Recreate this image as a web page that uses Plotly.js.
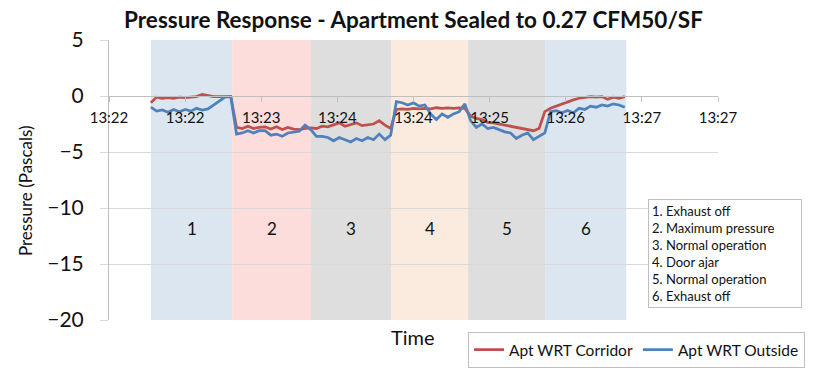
<!DOCTYPE html>
<html>
<head>
<meta charset="utf-8">
<script src="https://cdn.plot.ly/plotly-3.0.1.min.js"></script>
<style>html,body{margin:0;padding:0;background:#fff;}#chart{width:814px;height:381px;}</style>
</head>
<body>
<div id="chart"></div>
<script>
// time in seconds from the left end of the axis
const times = [22,25,28,31,34,37,40,43,46,49,52,55,58,61,64,67,70,73,76,79,82,85,88,91,94,97,100,103,106,109,112,115,118,121,124,127,130,133,136,139,142,145,148,151,154,157,160,163,166,169,172,175,178,181,184,187,190,193,196,199,202,205,208,211,214,217,220,223,226,229,232,235,238,241,244,247,250,253,256,259,262,265,268,271];
const aptCorridor = [-0.6,-0.1,-0.2,-0.15,-0.2,-0.1,-0.15,-0.1,-0.05,0.15,0.05,-0.05,-0.05,-0.05,-0.05,-2.8,-2.9,-2.7,-2.9,-2.8,-2.75,-2.95,-2.75,-3.0,-2.8,-2.95,-3.0,-2.9,-2.85,-2.9,-2.7,-2.75,-2.55,-2.4,-2.7,-2.55,-2.4,-2.65,-2.55,-2.5,-2.2,-2.6,-2.9,-1.2,-1.15,-1.2,-1.1,-1.15,-1.1,-1.15,-1.05,-1.1,-1.05,-1.1,-1.05,-1.1,-1.8,-2.0,-2.1,-2.35,-2.4,-2.5,-2.6,-2.65,-2.75,-2.85,-3.0,-3.1,-2.9,-1.4,-1.1,-0.9,-0.7,-0.5,-0.35,-0.2,-0.1,-0.05,-0.1,-0.05,-0.3,-0.1,-0.2,-0.05];
const aptOutside = [-1.0,-1.35,-1.25,-1.45,-1.2,-1.4,-1.2,-1.35,-1.1,-1.25,-1.15,-0.8,-0.4,-0.1,-0.05,-3.4,-3.3,-3.1,-3.3,-3.1,-3.1,-3.5,-3.4,-3.6,-3.3,-3.25,-3.15,-2.6,-3.0,-3.6,-3.6,-3.7,-4.0,-3.7,-3.9,-4.1,-3.8,-4.0,-3.7,-3.9,-3.4,-3.9,-3.5,-0.5,-0.6,-0.8,-0.6,-0.9,-0.8,-1.6,-2.1,-1.6,-1.9,-1.6,-1.4,-0.7,-2.2,-2.8,-2.5,-2.9,-2.8,-3.0,-3.2,-3.3,-3.8,-3.5,-3.3,-3.9,-3.6,-3.3,-1.4,-1.3,-1.5,-1.3,-1.5,-1.1,-1.2,-0.9,-1.0,-0.8,-0.9,-0.7,-0.8,-1.0];
const seriesNames = ['Apt WRT Corridor', 'Apt WRT Outside'];
const tickTimes = [0,40,80,120,160,200,240,280,320];
const tickLabels = ['13:22','13:22','13:23','13:24','13:24','13:25','13:26','13:27','13:27'];
const stageStart = [22,64.7,106.2,148.2,188.7,229.2];
const stageEnd = [64.7,106.2,148.2,188.7,229.2,271.8];
const stageNumbers = ['1','2','3','4','5','6'];
const stageNumberLevel = -11.8;
const stageColors = ['#dce6f1','#fddcdc','#dedede','#fbeade','#dedede','#dce6f1'];
const stageNames = ['1. Exhaust off','2. Maximum pressure','3. Normal operation','4. Door ajar','5. Normal operation','6. Exhaust off'];

const FONT = 'Lato, "Open Sans", sans-serif';
const shapes = stageStart.map((s, i) => ({
  type: 'rect', xref: 'x', yref: 'y', x0: s, x1: stageEnd[i], y0: -20, y1: 5,
  fillcolor: stageColors[i], line: {width: 0}, layer: 'below'
}));
const annotations = stageStart.map((s, i) => ({
  x: (s + stageEnd[i]) / 2, y: stageNumberLevel, xref: 'x', yref: 'y',
  text: stageNumbers[i], showarrow: false, font: {family: FONT, size: 17, color: '#111'}
}));
annotations.push({
  xref: 'paper', yref: 'paper', x: 0.885, y: 0.432, xanchor: 'left', yanchor: 'top',
  text: stageNames.join('<br>'), align: 'left', showarrow: false, width: 146, borderpad: 3,
  bordercolor: '#bfbfbf', borderwidth: 1, bgcolor: '#ffffff',
  font: {family: FONT, size: 13, color: '#111'}
});
annotations.push({
  xref: 'paper', yref: 'paper', x: 0.499, y: -0.061, xanchor: 'center', yanchor: 'middle',
  text: 'Time', showarrow: false, font: {family: FONT, size: 20, color: '#111'}
});
annotations.push({
  xref: 'paper', yref: 'paper', x: -0.138, y: 0.464, xanchor: 'center', yanchor: 'middle',
  text: 'Pressure (Pascals)', textangle: -90, showarrow: false, font: {family: FONT, size: 17, color: '#111'}
});

const traces = [
  {x: times, y: aptCorridor, name: seriesNames[0], type: 'scatter', mode: 'lines', line: {color: '#c0504d', width: 2.75}},
  {x: times, y: aptOutside, name: seriesNames[1], type: 'scatter', mode: 'lines', line: {color: '#4f81bd', width: 2.75}}
];

const layout = {
  width: 814, height: 381,
  margin: {l: 109, r: 96, t: 40, b: 61, autoexpand: false},
  paper_bgcolor: '#ffffff', plot_bgcolor: 'rgba(0,0,0,0)',
  font: {family: FONT, color: '#111'},
  title: {text: '<b>Pressure Response - Apartment Sealed to 0.27 CFM50/SF</b>', font: {family: FONT, size: 22.5, color: '#111'},
          x: 0.508, xref: 'container', y: 0.948, yref: 'container', xanchor: 'center', yanchor: 'middle'},
  xaxis: {range: [0, 320], tickvals: tickTimes, ticktext: tickLabels, anchor: 'free', position: 0.8,
          showgrid: false, zeroline: false, showline: true, linecolor: '#bfbfbf', linewidth: 1,
          ticks: 'outside', ticklen: 5, tickcolor: '#bfbfbf', ticklabelstandoff: 3,
          tickfont: {family: FONT, size: 15, color: '#111'}, fixedrange: true},
  yaxis: {range: [-20, 5], dtick: 5, tick0: 0, showgrid: true, gridcolor: '#d9d9d9', zeroline: false,
          showline: true, linecolor: '#bfbfbf', ticks: 'outside', ticklen: 8, tickcolor: '#d9d9d9',
          ticklabelstandoff: 12, tickfont: {family: FONT, size: 21, color: '#111'}},
  showlegend: true,
  legend: {orientation: 'h', x: 0.5895, y: -0.043, xanchor: 'left', yanchor: 'top',
           bordercolor: '#bfbfbf', borderwidth: 1, font: {family: FONT, size: 15.5, color: '#111'},
           itemwidth: 30, tracegroupgap: 0},
  shapes: shapes,
  annotations: annotations
};
Plotly.newPlot('chart', traces, layout, {displayModeBar: false, staticPlot: true});
</script>
</body>
</html>
